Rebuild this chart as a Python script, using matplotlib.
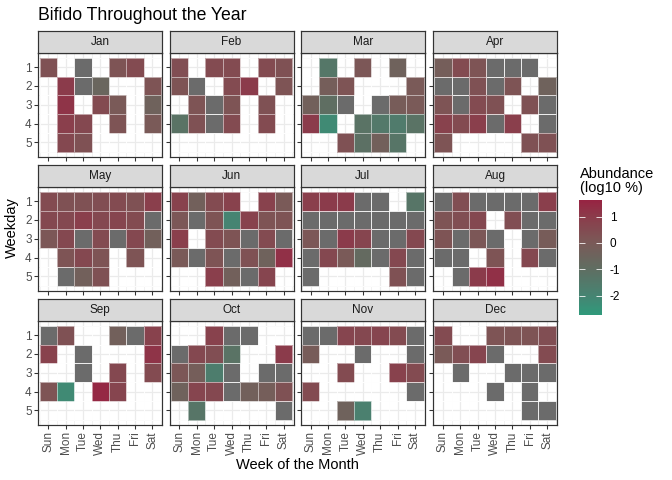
import numpy as np
import matplotlib
matplotlib.use('Agg')
import matplotlib.pyplot as plt
from matplotlib.colors import LinearSegmentedColormap, ListedColormap, Normalize
from matplotlib.cm import ScalarMappable

plt.rcParams['font.family'] = ['Liberation Sans', 'DejaVu Sans']

# E = no sample that day, Z = sample with zero abundance (log10 -> -inf, drawn as NA grey)
E = np.nan
Z = -np.inf

months = ['Jan', 'Feb', 'Mar', 'Apr', 'May', 'Jun', 'Jul', 'Aug', 'Sep', 'Oct', 'Nov', 'Dec']
weekdays = ['Sun', 'Mon', 'Tue', 'Wed', 'Thu', 'Fri', 'Sat']
weeks = [1, 2, 3, 4, 5]

# rows = week of the month, columns = weekday
jan = [[0.3, E, Z, E, 0.2, 0.5, E],
       [E, 1.0, Z, -0.6, E, E, 0.2],
       [E, 1.2, E, 0.5, 0.0, E, -0.4],
       [E, 0.9, 0.6, E, 0.2, E, 0.0],
       [E, 0.6, 0.3, E, E, E, E]]
feb = [[0.4, E, 0.5, 0.5, E, 0.5, 0.3],
       [0.2, Z, E, 0.5, 1.0, E, 0.2],
       [E, 0.2, Z, 0.2, E, 0.3, E],
       [-1.2, 0.3, Z, 0.5, E, 0.5, E],
       [E, E, E, E, E, E, E]]
mar = [[E, -1.4, E, 0.1, E, -0.4, E],
       [E, -0.2, 0.2, E, E, E, 0.0],
       [-0.3, -1.0, Z, E, Z, -0.1, 0.0],
       [1.0, -2.2, E, -1.2, -1.5, -1.6, -1.2],
       [E, E, 0.3, -1.1, -0.3, -1.3, E]]
apr = [[-0.2, 0.5, 0.2, Z, Z, Z, E],
       [Z, Z, 0.3, Z, 0.2, E, -0.4],
       [0.2, Z, 0.5, 0.3, E, 0.3, Z],
       [0.8, 0.5, 0.9, Z, 0.9, E, Z],
       [0.2, E, E, E, E, 0.3, 0.3]]
may = [[0.5, 0.3, 0.3, 0.4, 0.5, 0.3, 0.9],
       [0.6, 0.6, 0.9, 0.6, 0.7, 0.5, Z],
       [0.1, 0.6, Z, 0.5, Z, 0.6, -0.3],
       [E, 0.2, 0.6, 0.2, E, 0.2, E],
       [E, Z, -0.3, 0.3, E, E, E]]
jun = [[0.8, -0.3, 0.5, 0.8, E, 0.8, 0.0],
       [0.1, Z, 0.2, -2.0, 0.8, 0.2, 0.2],
       [0.9, E, 0.5, 0.2, Z, 0.5, Z],
       [0.0, Z, 0.2, Z, 0.3, -0.4, 1.3],
       [E, E, 0.9, -0.3, Z, 0.7, E]]
jul = [[0.9, 1.0, 1.0, Z, Z, E, -1.3],
       [Z, Z, Z, Z, Z, Z, Z],
       [0.1, Z, 1.0, 0.7, Z, Z, 0.6],
       [Z, 0.6, 0.0, -0.8, Z, 0.6, Z],
       [Z, E, E, E, E, 0.3, Z]]
aug = [[Z, 0.4, Z, Z, Z, Z, 0.9],
       [0.2, 0.4, 0.6, E, 0.4, Z, Z],
       [0.2, Z, 0.1, Z, E, Z, -0.1],
       [Z, Z, E, 0.2, E, 0.6, Z],
       [E, Z, 1.0, 1.3, E, E, E]]
sep = [[Z, 0.3, E, E, -0.3, Z, 0.8],
       [0.8, E, Z, E, E, E, 1.2],
       [E, E, Z, E, 0.6, E, 0.5],
       [0.2, -2.2, E, 1.5, 0.7, E, E],
       [E, E, E, E, E, E, E]]
oct_ = [[E, E, 0.8, Z, Z, E, E],
        [Z, 0.6, 0.4, -1.2, E, E, 1.0],
        [0.1, -0.2, -1.7, Z, E, Z, Z],
        [-0.4, 0.7, 0.6, Z, -0.3, -0.2, 0.3],
        [E, -1.3, E, E, E, E, Z]]
nov = [[Z, Z, 0.7, 0.6, 0.7, 0.5, Z],
       [-0.1, E, E, Z, E, E, Z],
       [E, E, 0.5, E, E, 0.8, 0.5],
       [0.5, E, E, E, E, E, Z],
       [E, E, -0.4, -1.8, E, E, E]]
dec = [[0.5, E, E, 0.2, 0.2, 0.2, 0.4],
       [0.0, 0.4, 0.7, Z, E, E, 0.5],
       [E, Z, E, E, Z, Z, Z],
       [E, E, E, Z, E, Z, E],
       [E, E, E, E, E, Z, Z]]

month_data = [jan, feb, mar, apr, may, jun, jul, aug, sep, oct_, nov, dec]

vmin, vmax = -2.73, 1.63
anchors = [(-2.73, '#2f9a7b'), (-2.0, '#468472'), (-1.0, '#5f6e62'),
           (0.0, '#7a5a58'), (1.0, '#8b3c4b'), (1.63, '#972342')]
cmap = LinearSegmentedColormap.from_list(
    'abund', [((v - vmin) / (vmax - vmin), c) for v, c in anchors])
norm = Normalize(vmin, vmax)
na_cmap = ListedColormap(['#6b6b6b'])

W, H = 672, 480
fig = plt.figure(figsize=(7, 5), dpi=96)


def px_axes(left, top, width, height):
  return fig.add_axes([left / W, 1 - (top + height) / H, width / W, height / H])


col_left = [38.3, 169.5, 300.8, 433.0]
row_top = [31.0, 165.0, 299.0]
pw, strip_h, ph = 124.0, 22.0, 103.5

xe = np.arange(0.5, 8.0, 1.0)
ye = np.arange(0.5, 6.0, 1.0)

for i, (name, grid) in enumerate(zip(months, month_data)):
  r, c = divmod(i, 4)
  vals = np.array(grid, dtype=float)
  ax = px_axes(col_left[c], row_top[r] + strip_h, pw, ph)
  ax.set_xlim(0.43, 7.57)
  ax.set_ylim(5.75, 0.25)
  ax.set_xticks(range(1, 8))
  ax.set_yticks(weeks)
  ax.set_xticks(xe, minor=True)
  ax.set_yticks(ye, minor=True)
  ax.grid(which='major', color='#ebebeb', lw=0.9)
  ax.grid(which='minor', color='#ebebeb', lw=0.45)
  ax.set_axisbelow(True)

  zero = np.ma.masked_where(~np.isneginf(vals), np.zeros_like(vals))
  shown = np.ma.masked_invalid(vals)
  ax.pcolormesh(xe, ye, zero, cmap=na_cmap, edgecolors=(1, 1, 1, 0.5), linewidth=0.6)
  ax.pcolormesh(xe, ye, shown, cmap=cmap, norm=norm, edgecolors=(1, 1, 1, 0.5), linewidth=0.6)

  for s in ax.spines.values():
    s.set_color('#333333')
    s.set_linewidth(0.9)
  ax.tick_params(which='major', length=3, width=0.8, color='#333333',
                 labelsize=8.8, labelcolor='#4d4d4d', pad=2)
  ax.tick_params(which='minor', length=0)
  if r == 2:
    ax.set_xticklabels(weekdays, rotation=90)
  else:
    ax.set_xticklabels([])
  if c == 0:
    ax.set_yticklabels(weeks)
  else:
    ax.set_yticklabels([])

  sax = px_axes(col_left[c], row_top[r], pw, strip_h)
  sax.set_facecolor('#d9d9d9')
  sax.set_xticks([])
  sax.set_yticks([])
  for s in sax.spines.values():
    s.set_color('#333333')
    s.set_linewidth(0.9)
  sax.text(0.5, 0.5, name, ha='center', va='center', fontsize=8.8,
           color='#1a1a1a', transform=sax.transAxes)

fig.text(38 / W, 1 - 15 / H, 'Bifido Throughout the Year', fontsize=13.2,
         ha='left', va='center')
fig.text(297 / W, 1 - 465 / H, 'Week of the Month', fontsize=11, ha='center', va='center')
fig.text(12 / W, 1 - 228 / H, 'Weekday', fontsize=11, rotation=90, ha='center', va='center')

fig.text(580 / W, 1 - 181 / H, 'Abundance\n(log10 %)', fontsize=11, ha='left',
         va='center', linespacing=1.05)
cax = px_axes(579, 200, 23, 115)
cb = fig.colorbar(ScalarMappable(norm=norm, cmap=cmap), cax=cax, ticks=[-2, -1, 0, 1])
cb.outline.set_visible(False)
cax.tick_params(direction='in', color='white', length=4.5, width=0.6,
                left=True, right=True, labelsize=8.8, pad=6)
cax.set_yticklabels(['-2', '-1', '0', '1'])

fig.savefig('out.png', dpi=96)
print('png saved')
